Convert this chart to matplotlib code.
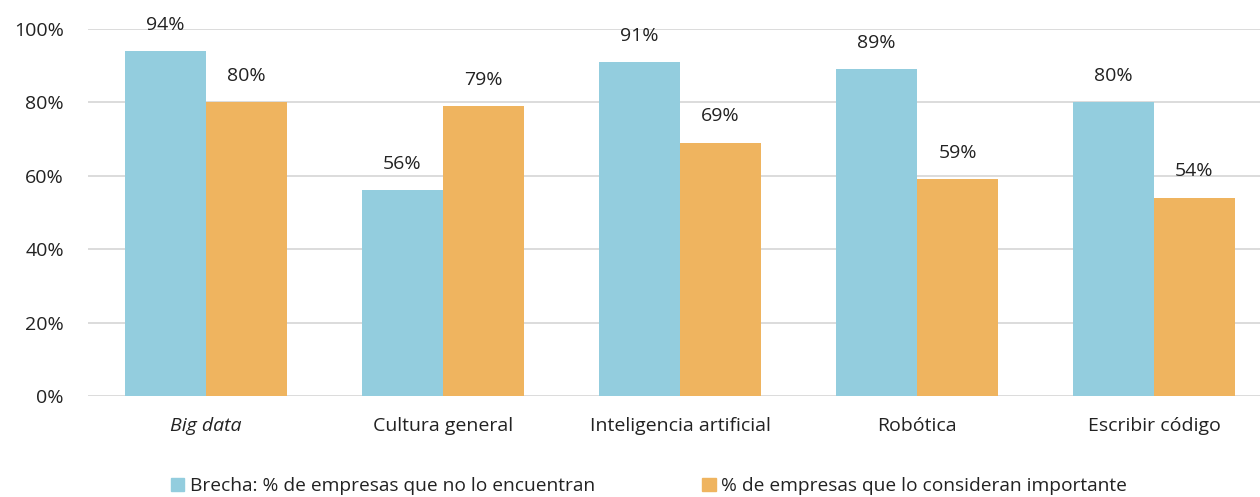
import numpy as np
import matplotlib
matplotlib.use("Agg")
import matplotlib.pyplot as plt
from matplotlib.patches import Patch

categories = ["Big data", "Cultura general", "Inteligencia artificial", "Robótica", "Escribir código"]
brecha = [94, 56, 91, 89, 80]
importante = [80, 79, 69, 59, 54]
labels_brecha = ["94%", "56%", "91%", "89%", "80%"]
labels_importante = ["80%", "79%", "69%", "59%", "54%"]
series_names = ["Brecha: % de empresas que no lo encuentran",
                "% de empresas que lo consideran importante"]
yticks = [0, 20, 40, 60, 80, 100]
ytick_labels = ["0%", "20%", "40%", "60%", "80%", "100%"]

plt.rcParams['font.family'] = ['Open Sans', 'DejaVu Sans']

teal = '#93CDDE'
orange = '#EFB45F'
text_color = '#222222'

W, H = 1260, 497
fig = plt.figure(figsize=(W / 100, H / 100), dpi=100)
# axes spans past the right edge like the cropped original
ax = fig.add_axes([87.5 / W, 1 - 396 / H, 1185 / W, 367 / H])

x = np.arange(len(categories))
w = 81 / 237
b1 = ax.bar(x - w / 2, brecha, width=w, color=teal, zorder=2)
b2 = ax.bar(x + w / 2, importante, width=w, color=orange, zorder=2)

for bars, labs in ((b1, labels_brecha), (b2, labels_importante)):
    for rect, lab in zip(bars, labs):
        ax.annotate(lab, (rect.get_x() + rect.get_width() / 2, rect.get_height()),
                    xytext=(0, 12.5), textcoords='offset points',
                    ha='center', va='bottom', fontsize=14, color=text_color)

ax.set_xlim(-0.5, len(categories) - 0.5)
ax.set_ylim(0, 100)
ax.set_yticks(yticks)
ax.set_yticklabels(ytick_labels, fontsize=14, color=text_color)
ax.set_xticks(x)
ax.set_xticklabels(categories, fontsize=14, color=text_color)
ax.get_xticklabels()[0].set_style('italic')
ax.tick_params(axis='both', length=0)
ax.tick_params(axis='y', pad=17)
ax.tick_params(axis='x', pad=15)

ax.grid(axis='y', color='#D9D9D9', linewidth=1.3, zorder=0)
for s in ax.spines.values():
    s.set_visible(False)

handles = [Patch(color=teal), Patch(color=orange)]
fig.legend(handles, series_names, loc='center', bbox_to_anchor=(649 / W, 1 - 486 / H),
           ncol=2, frameon=False, fontsize=13.8, handlelength=0.7, handleheight=0.7,
           handletextpad=0.3, columnspacing=5.6, labelcolor=text_color)

fig.savefig('out.png', dpi=100, facecolor='white')
